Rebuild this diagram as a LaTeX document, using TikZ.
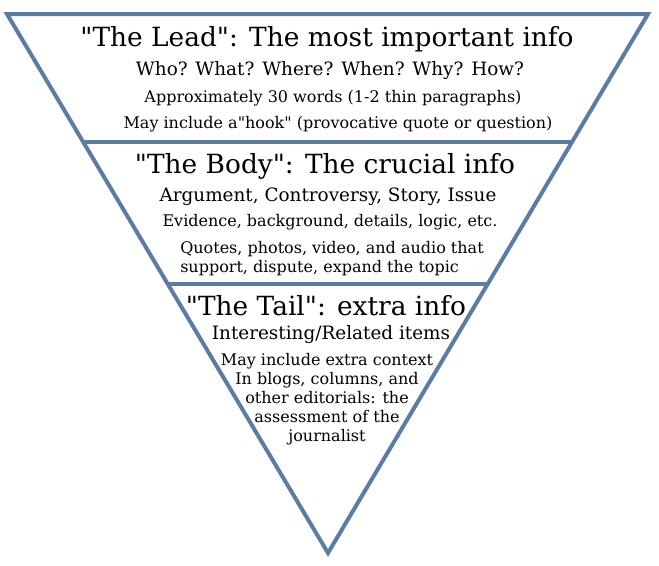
\documentclass[tikz,border=0pt]{standalone}
\usepackage{fontspec}
\setmainfont{DejaVu Serif}[Ligatures=TeXOff]
\usetikzlibrary{calc}

\definecolor{pyramidblue}{RGB}{92,124,161}

\begin{document}
\begin{tikzpicture}[
  x=0.75pt, y=-0.75pt,
  every node/.style={inner sep=0pt, anchor=base},
  outline/.style={draw=pyramidblue, line width=3pt, miter limit=20},
  headtext/.style={font=\fontsize{19.8}{23}\selectfont},
  subtext/.style={font=\fontsize{13.8}{16}\selectfont},
  smalltext/.style={font=\fontsize{12}{14.25}\selectfont, align=center}
]
\useasboundingbox (0,0) rectangle (659,565);

% Pyramid
\coordinate (tl) at (7,14);
\coordinate (tr) at (648,14);
\coordinate (tip) at (328,553);
\coordinate (bodyl) at ($(tl)!0.2375!(tip)$);
\coordinate (bodyr) at ($(tr)!0.2375!(tip)$);
\coordinate (taill) at ($(tl)!0.501!(tip)$);
\coordinate (tailr) at ($(tr)!0.501!(tip)$);
\draw[outline] (tl) -- (tr) -- (tip) -- cycle;
\draw[outline] (bodyl) -- (bodyr);
\draw[outline] (taill) -- (tailr);

% The Lead
\node[headtext] (leadtitle) at (327,46) {"The Lead": The most important info};
\node[subtext] (leadwho) at (330,75) {Who? What? Where? When? Why? How?};
\node[smalltext] (leadwords) at (333,102) {Approximately 30 words (1-2 thin paragraphs)};
\node[smalltext] (leadhook) at (338,128) {May include a"hook" (provocative quote or question)};

% The Body
\node[headtext] (bodytitle) at (325,173) {"The Body": The crucial info};
\node[subtext] (bodyargs) at (328,201) {Argument, Controversy, Story, Issue};
\node[smalltext] (bodyevid) at (330,226) {Evidence, background, details, logic, etc.};
\node[smalltext, align=left, anchor=base west] (bodyquotes) at (180,272) {Quotes, photos, video, and audio that\\support, dispute, expand the topic};

% The Tail
\node[headtext] (tailtitle) at (326,315) {"The Tail": extra info};
\node[subtext] (tailitems) at (331,339) {Interesting/Related items};
\node[smalltext] (tailextra) at (327,441) {May include extra context\\In blogs, columns, and\\other editorials: the\\assessment of the\\journalist};

\end{tikzpicture}
\end{document}
